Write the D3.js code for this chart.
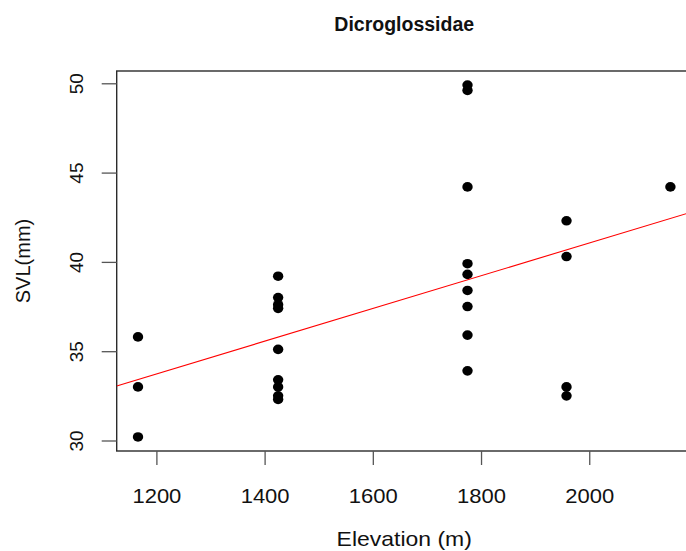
<!DOCTYPE html>
<html>
<head>
<meta charset="utf-8">
<script src="https://cdn.jsdelivr.net/npm/d3@7"></script>
<style>
  html, body { margin: 0; padding: 0; background: #fff; }
  svg { display: block; }
  text { font-family: "Liberation Sans", Arial, Helvetica, sans-serif; fill: #111; }
</style>
</head>
<body>
<svg id="chart" width="686" height="551"></svg>
<script>
// Elevation (m) and snout-vent length (mm) for each specimen
const elevation = [
  1166, 1166, 1166,
  1425, 1425, 1425, 1425, 1425, 1425, 1425, 1425, 1425,
  1775, 1775, 1775, 1775, 1775, 1775, 1775, 1775, 1775,
  1958, 1958, 1958, 1958,
  2150
];
const svl = [
  35.8, 33.0, 30.2,
  39.2, 38.0, 37.6, 37.4, 35.1, 33.4, 33.0, 32.5, 32.3,
  49.9, 49.6, 44.2, 39.9, 39.3, 38.4, 37.5, 35.9, 33.9,
  42.3, 40.3, 33.0, 32.5,
  44.2
];
const xTicks = [1200, 1400, 1600, 1800, 2000];
const yTicks = [30, 35, 40, 45, 50];

const title = "Dicroglossidae";
const xLabel = "Elevation (m)";
const yLabel = "SVL(mm)";

const svg = d3.select("#chart");
const plot = { left: 116.7, right: 691.7, top: 71, bottom: 451 };

// Axis ranges padded by 4% of the data span on each side
function padded(values) {
  const [lo, hi] = d3.extent(values);
  const pad = (hi - lo) * 0.04;
  return [lo - pad, hi + pad];
}

const x = d3.scaleLinear().domain(padded(elevation)).range([plot.left, plot.right]);
const y = d3.scaleLinear().domain(padded(svl)).range([plot.bottom, plot.top]);

// Least-squares fit of SVL on elevation
const mx = d3.mean(elevation), my = d3.mean(svl);
let sxy = 0, sxx = 0;
elevation.forEach((e, i) => { sxy += (e - mx) * (svl[i] - my); sxx += (e - mx) * (e - mx); });
const slope = sxy / sxx;
const intercept = my - slope * mx;

svg.append("defs").append("clipPath").attr("id", "plot-clip")
  .append("rect")
  .attr("x", plot.left).attr("y", plot.top)
  .attr("width", plot.right - plot.left).attr("height", plot.bottom - plot.top);

// Frame around the plotting region
svg.append("rect")
  .attr("x", plot.left).attr("y", plot.top)
  .attr("width", plot.right - plot.left).attr("height", plot.bottom - plot.top)
  .attr("fill", "none").attr("stroke", "#2b2b2b").attr("stroke-width", 1.4);

// Points
svg.append("g")
  .selectAll("ellipse")
  .data(elevation.map((e, i) => [e, svl[i]]))
  .join("ellipse")
  .attr("cx", d => x(d[0]))
  .attr("cy", d => y(d[1]))
  .attr("rx", 5.2)
  .attr("ry", 4.8)
  .attr("fill", "#000");

// Regression line across the full plot width
const [x0, x1] = x.domain();
svg.append("line")
  .attr("clip-path", "url(#plot-clip)")
  .attr("x1", x(x0)).attr("y1", y(intercept + slope * x0))
  .attr("x2", x(x1)).attr("y2", y(intercept + slope * x1))
  .attr("stroke", "#ff0000").attr("stroke-width", 1.1);

// X axis
const gx = svg.append("g")
  .attr("transform", `translate(0,${plot.bottom})`)
  .call(d3.axisBottom(x).tickValues(xTicks).tickSize(14).tickSizeOuter(0).tickFormat(d3.format("d")));
gx.select(".domain").remove();
gx.selectAll(".tick line").attr("stroke", "#555").attr("stroke-width", 1.3);
gx.selectAll(".tick text")
  .attr("y", 52.5).attr("dy", 0)
  .attr("transform", "scale(1.1,1)")
  .style("font-size", "20px").attr("fill", "#111");

// Y axis with labels rotated parallel to the axis
const gy = svg.append("g")
  .attr("transform", `translate(${plot.left},0)`)
  .call(d3.axisLeft(y).tickValues(yTicks).tickSize(15).tickSizeOuter(0).tickFormat(d3.format("d")));
gy.select(".domain").remove();
gy.selectAll(".tick line").attr("stroke", "#555").attr("stroke-width", 1.3);
gy.selectAll(".tick text")
  .attr("x", 0).attr("y", 0).attr("dy", 0)
  .attr("text-anchor", "middle")
  .attr("transform", "translate(-33.4,0) rotate(-90)")
  .style("font-size", "19px").attr("fill", "#111");

// Titles
const cx = (plot.left + plot.right) / 2;
svg.append("text")
  .attr("x", cx).attr("y", 31)
  .attr("text-anchor", "middle")
  .style("font-size", "19.5px").style("font-weight", "bold")
  .text(title);

svg.append("text")
  .attr("transform", `translate(${cx},546) scale(1.12,1)`)
  .attr("text-anchor", "middle")
  .style("font-size", "20.5px")
  .text(xLabel);

svg.append("text")
  .attr("transform", `translate(29.5,${(plot.top + plot.bottom) / 2}) rotate(-90)`)
  .attr("text-anchor", "middle")
  .style("font-size", "20px")
  .text(yLabel);
</script>
</body>
</html>
